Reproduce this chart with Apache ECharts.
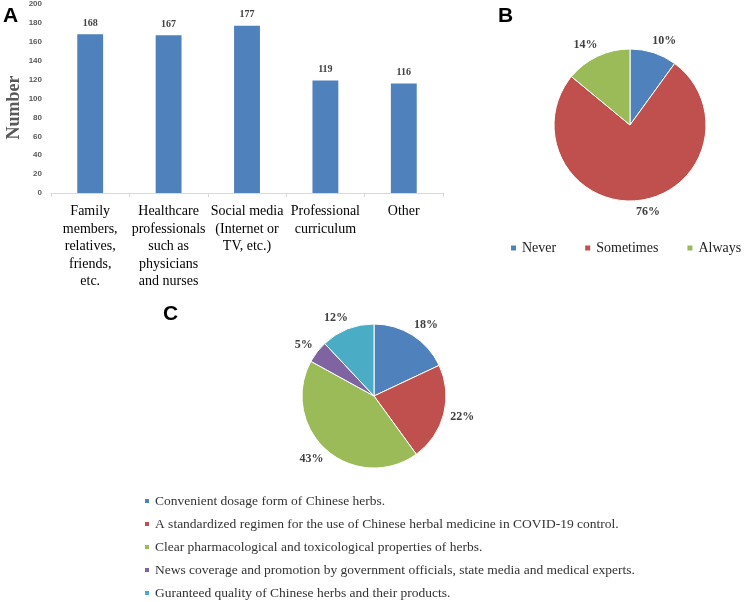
<!DOCTYPE html>
<html><head><meta charset="utf-8">
<script src="https://cdn.jsdelivr.net/npm/echarts@6/dist/echarts.min.js"></script>
<style>html,body{margin:0;padding:0;background:#fff}#c{width:750px;height:602px}</style>
</head><body><div id="c"></div>
<script>
const barCategories = [
  "Family\nmembers,\nrelatives,\nfriends,\netc.",
  "Healthcare\nprofessionals\nsuch as\nphysicians\nand nurses",
  "Social media\n(Internet or\nTV, etc.)",
  "Professional\ncurriculum",
  "Other"
];
const barValues = [168, 167, 177, 119, 116];
const yTicks = { min: 0, max: 200, interval: 20 };

const freqNames = ["Never", "Sometimes", "Always"];
const freqValues = [10, 76, 14];

const reasonNames = [
  "Convenient dosage form of Chinese herbs.",
  "A standardized regimen for the use of Chinese herbal medicine in COVID-19 control.",
  "Clear pharmacological and toxicological properties of herbs.",
  "News coverage and promotion by government officials, state media and medical experts.",
  "Guranteed quality of Chinese herbs and their products."
];
const reasonValues = [18, 22, 43, 5, 12];

const palette = ["#4F81BD", "#C0504D", "#9BBB59", "#8064A2", "#4BACC6"];
const serif = "'Liberation Serif','DejaVu Serif',serif";
const sans = "'Liberation Sans',Arial,sans-serif";

const chart = echarts.init(document.getElementById('c'), null, { renderer: 'canvas' });
const pieLabel = {
  show: true, position: 'outside', formatter: '{c}%',
  fontFamily: serif, fontWeight: 'bold', fontSize: 12, color: '#404040'
};
const pieLine = { show: false, length: 12, length2: -10 };
chart.setOption({
  animation: false,
  color: palette,
  graphic: [
    { type: 'text', left: 3, top: 6, style: { text: 'A', font: "bold 21px " + sans, fill: '#000' } },
    { type: 'text', left: 498, top: 6, style: { text: 'B', font: "bold 21px " + sans, fill: '#000' } },
    { type: 'text', left: 163, top: 304, style: { text: 'C', font: "bold 21px " + sans, fill: '#000' } }
  ],
  grid: { left: 51, right: 307, top: 4, bottom: 409, containLabel: false, outerBoundsMode: 'none' },
  xAxis: {
    type: 'category', data: barCategories,
    axisLine: { lineStyle: { color: '#d9d9d9' } },
    axisTick: { show: true, alignWithLabel: false, length: 4, lineStyle: { color: '#d9d9d9' } },
    axisLabel: { interval: 0, margin: 10, fontFamily: serif, fontSize: 14, lineHeight: 17.5, color: '#000' }
  },
  yAxis: {
    type: 'value', min: yTicks.min, max: yTicks.max, interval: yTicks.interval,
    name: 'Number', nameLocation: 'middle', nameGap: 28, nameRotate: 90, nameMoveOverlap: false,
    nameTextStyle: { fontFamily: serif, fontWeight: 'bold', fontSize: 18, color: '#595959', padding: [0, 18, 0, 0] },
    axisLine: { show: false }, axisTick: { show: false }, splitLine: { show: false },
    axisLabel: { fontFamily: sans, fontWeight: 'bold', fontSize: 8, color: '#595959', margin: 9 }
  },
  legend: [
    {
      data: freqNames, left: 504, top: 236, itemWidth: 7, itemHeight: 7, itemGap: 27,
      icon: 'rect', textStyle: { fontFamily: serif, fontSize: 14, color: '#222' }
    },
    {
      data: reasonNames, orient: 'vertical', left: 138, top: 489, height: 120, itemWidth: 6, itemHeight: 6, itemGap: 9,
      icon: 'rect', textStyle: { fontFamily: serif, fontSize: 13.5, color: '#333' }
    }
  ],
  series: [
    {
      type: 'bar', data: barValues, barWidth: '33%', itemStyle: { color: '#4F81BD' },
      label: { show: true, position: 'top', distance: 6, fontFamily: serif, fontWeight: 'bold', fontSize: 10, color: '#404040' }
    },
    {
      type: 'pie', center: [630, 125], radius: 76, startAngle: 90,
      data: freqNames.map((n, i) => ({ name: n, value: freqValues[i], itemStyle: { color: palette[i] } })),
      itemStyle: { borderColor: '#fff', borderWidth: 1 },
      label: pieLabel, labelLine: pieLine
    },
    {
      type: 'pie', center: [374, 396], radius: 72, startAngle: 90,
      data: reasonNames.map((n, i) => ({ name: n, value: reasonValues[i], itemStyle: { color: palette[i] } })),
      itemStyle: { borderColor: '#fff', borderWidth: 1 },
      label: pieLabel, labelLine: pieLine
    }
  ]
});
</script></body></html>
